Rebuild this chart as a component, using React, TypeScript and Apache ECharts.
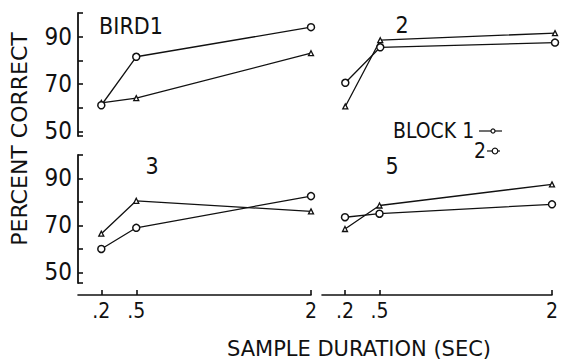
import React, { useEffect, useRef } from "react";
import * as echarts from "echarts";

// Sample durations (sec) on the x axis
const durations = [0.2, 0.5, 2];
const xTickValues = [0.2, 0.5, 2];
const xTickLabels = [".2", ".5", "2"];

// Percent correct per bird, block 1 (small markers) and block 2 (circles)
const bird1Block1 = [62, 64, 83];
const bird1Block2 = [61, 81.5, 94];
const bird2Block1 = [60.5, 88.5, 91.5];
const bird2Block2 = [70.5, 85.5, 87.5];
const bird3Block1 = [66.5, 80.5, 76];
const bird3Block2 = [60, 69, 82.5];
const bird5Block1 = [68.5, 78.5, 87.5];
const bird5Block2 = [73.5, 75, 79];

const panelTitles = ["BIRD1", "2", "3", "5"];
const yLabelValues = [50, 70, 90];
const blockNames = ["BLOCK 1", "2"];

const FONT = "'DejaVu Sans Condensed', 'Liberation Sans Narrow', 'DejaVu Sans', sans-serif";
const WIDE = "'DejaVu Sans', sans-serif";
const INK = "#111";

export default function App() {
  const ref = useRef<HTMLDivElement>(null);

  useEffect(() => {
    if (!ref.current) return;
    const chart = echarts.init(ref.current, null, { renderer: "svg" });

    const panels = [
      { left: 78, top: 13, height: 123, min: 48, b1: bird1Block1, b2: bird1Block2, showY: true, showX: false },
      { left: 322, top: 13, height: 123, min: 48, b1: bird2Block1, b2: bird2Block2, showY: false, showX: false },
      { left: 78, top: 155, height: 128, min: 45.5, b1: bird3Block1, b2: bird3Block2, showY: true, showX: true },
      { left: 322, top: 155, height: 128, min: 45.5, b1: bird5Block1, b2: bird5Block2, showY: false, showX: true },
    ];

    const grid = panels.map((p) => ({ left: p.left, top: p.top, width: 233, height: p.height }));

    const xAxis = panels.map((p, i) => ({
      type: "value",
      gridIndex: i,
      min: 0,
      max: 2,
      show: p.showX,
      offset: 12,
      splitLine: { show: false },
      axisLine: { show: true, lineStyle: { color: INK, width: 1.6 } },
      axisTick: {
        show: true,
        inside: true,
        length: 5,
        customValues: xTickValues,
        lineStyle: { color: INK, width: 1.6 },
      },
      axisLabel: {
        show: true,
        customValues: xTickValues,
        margin: 5,
        color: INK,
        fontFamily: FONT,
        fontSize: 21,
        formatter: (v: number) => xTickLabels[xTickValues.indexOf(v)] ?? "",
      },
    }));

    const yAxis = panels.map((p, i) => ({
      type: "value",
      gridIndex: i,
      min: p.min,
      max: 100,
      show: p.showY,
      splitLine: { show: false },
      axisLine: { show: true, lineStyle: { color: INK, width: 1.8 } },
      axisTick: {
        show: true,
        inside: true,
        length: 5,
        customValues: [p.min, 50, 60, 70, 80, 90, 100],
        lineStyle: { color: INK, width: 1.6 },
      },
      axisLabel: {
        show: true,
        customValues: yLabelValues,
        margin: 6,
        color: INK,
        fontFamily: FONT,
        fontSize: 24,
      },
    }));

    const series: any[] = [];
    panels.forEach((p, i) => {
      series.push({
        type: "line",
        name: "block1",
        xAxisIndex: i,
        yAxisIndex: i,
        data: durations.map((d, k) => [d, p.b1[k]]),
        symbol: "triangle",
        symbolSize: 5,
        lineStyle: { color: INK, width: 1.3 },
        itemStyle: { color: "#fff", borderColor: INK, borderWidth: 1.3 },
        z: 3,
      });
      series.push({
        type: "line",
        name: "block2",
        xAxisIndex: i,
        yAxisIndex: i,
        data: durations.map((d, k) => [d, p.b2[k]]),
        symbol: "circle",
        symbolSize: 7,
        lineStyle: { color: INK, width: 1.3 },
        itemStyle: { color: "#fff", borderColor: INK, borderWidth: 1.5 },
        z: 4,
      });
    });

    const titleStyle = { fill: INK, font: `23px ${FONT}` };
    const centered = { textAlign: "center", textVerticalAlign: "middle" };
    const graphic: any[] = [
      { type: "text", x: 131, y: 26, style: { ...titleStyle, ...centered, text: panelTitles[0] } },
      { type: "text", x: 402, y: 25, style: { ...titleStyle, ...centered, text: panelTitles[1] } },
      { type: "text", x: 152, y: 166, style: { ...titleStyle, ...centered, text: panelTitles[2] } },
      { type: "text", x: 392, y: 166, style: { ...titleStyle, ...centered, text: panelTitles[3] } },
      // legend
      { type: "text", x: 393, y: 131, style: { ...titleStyle, font: `21px ${FONT}`, text: blockNames[0], textVerticalAlign: "middle" } },
      { type: "line", shape: { x1: 479, y1: 131, x2: 502, y2: 131 }, style: { stroke: INK, lineWidth: 1.2 } },
      { type: "circle", shape: { cx: 493, cy: 131, r: 2 }, style: { fill: "#fff", stroke: INK, lineWidth: 1.2 } },
      { type: "text", x: 480, y: 151, style: { ...titleStyle, font: `21px ${FONT}`, text: blockNames[1], textAlign: "center", textVerticalAlign: "middle" } },
      { type: "line", shape: { x1: 487, y1: 151, x2: 500, y2: 151 }, style: { stroke: INK, lineWidth: 1.2 } },
      { type: "circle", shape: { cx: 495, cy: 151, r: 2.8 }, style: { fill: "#fff", stroke: INK, lineWidth: 1.2 } },
      // axis titles
      {
        type: "text",
        x: 19,
        y: 139,
        rotation: Math.PI / 2,
        style: { ...titleStyle, font: `22px ${WIDE}`, text: "PERCENT CORRECT", ...centered },
      },
      {
        type: "text",
        x: 359,
        y: 349,
        style: { ...titleStyle, font: `21px ${WIDE}`, text: "SAMPLE DURATION (SEC)", ...centered },
      },
    ];

    chart.setOption({
      animation: false,
      backgroundColor: "#fff",
      grid,
      xAxis,
      yAxis,
      series,
      graphic,
    });

    return () => chart.dispose();
  }, []);

  return <div ref={ref} style={{ position: "fixed", left: 0, top: 0, width: 561, height: 364 }} />;
}
